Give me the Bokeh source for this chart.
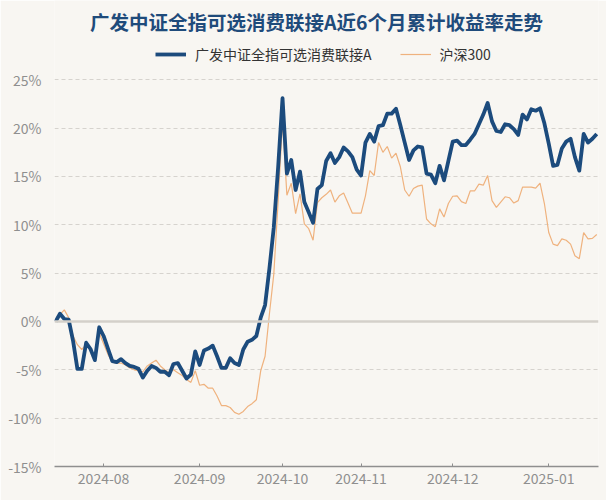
from bokeh.plotting import figure
from bokeh.models import (FixedTicker, PrintfTickFormatter, Legend, LegendItem,
                          Span, Label, Range1d, ColumnDataSource)
from bokeh.embed import file_html
from bokeh.resources import INLINE

# trading days (China A-share) by month
months = ["2024-07", "2024-08", "2024-09", "2024-10", "2024-11", "2024-12", "2025-01"]
days = [
    [17, 18, 19, 22, 23, 24, 25, 26, 29, 30, 31],
    [1, 2, 5, 6, 7, 8, 9, 12, 13, 14, 15, 16, 19, 20, 21, 22, 23, 26, 27, 28, 29, 30],
    [2, 3, 4, 5, 6, 9, 10, 11, 12, 13, 18, 19, 20, 23, 24, 25, 26, 27, 30],
    [8, 9, 10, 11, 14, 15, 16, 17, 18, 21, 22, 23, 24, 25, 28, 29, 30, 31],
    [1, 4, 5, 6, 7, 8, 11, 12, 13, 14, 15, 18, 19, 20, 21, 22, 25, 26, 27, 28, 29],
    [2, 3, 4, 5, 6, 9, 10, 11, 12, 13, 16, 17, 18, 19, 20, 23, 24, 25, 26, 27, 30, 31],
    [2, 3, 6, 7, 8, 9, 10, 13, 14, 15, 16, 17],
]
dates = [f"{m}-{d:02d}" for m, ds in zip(months, days) for d in ds]

fund = [
    0.0, 0.8, 0.25, 0.2, -2.0, -4.9, -4.9, -2.2, -2.85, -4.0,
    -0.6, -1.5, -2.8, -4.1, -4.2, -3.9, -4.3, -4.6, -4.7, -4.9,
    -5.8, -5.1, -4.6, -4.8, -5.2, -5.2, -5.55, -4.4, -4.3, -5.1,
    -5.9, -5.5, -3.1, -4.5, -3.0, -2.8, -2.5, -3.6, -4.8, -4.8,
    -3.8, -4.3, -4.5, -2.9, -2.1, -1.9, -1.5, 0.4, 1.7, 5.5,
    9.75, 16.0, 23.1, 15.3, 16.7, 13.6, 15.5, 12.35, 11.3, 10.2,
    13.7, 14.1, 16.6, 17.4, 16.4, 17.0, 18.0, 17.6, 17.0, 15.7,
    15.1, 18.5, 19.4, 18.6, 20.2, 20.3, 21.5, 21.5, 22.0, 20.3,
    18.5, 16.7, 17.7, 18.1, 18.0, 15.3, 15.2, 14.3, 16.1, 14.6,
    16.6, 18.6, 18.7, 18.25, 18.25, 18.8, 19.4, 20.4, 21.4, 22.6,
    20.7, 19.7, 19.6, 20.4, 20.3, 19.9, 19.3, 21.4, 20.9, 21.95,
    21.8, 22.05, 20.5, 18.4, 16.1, 16.2, 17.9, 18.6, 18.9, 17.0,
    15.6, 19.4, 18.5, 18.9, 19.4,
]

hs300 = [
    0.0, 0.7, 1.2, 0.4, -1.5, -2.4, -2.9, -2.4, -3.0, -3.7,
    -1.2, -2.3, -3.4, -4.2, -4.3, -4.3, -4.5, -4.8, -5.0, -5.1,
    -5.2, -4.6, -4.3, -4.0, -4.6, -5.0, -5.3, -5.0, -5.3, -5.6,
    -6.0, -6.3, -5.1, -6.6, -6.5, -6.9, -6.9, -7.7, -8.7, -8.7,
    -8.9, -9.4, -9.6, -9.3, -8.8, -8.5, -8.1, -5.1, -3.6, 0.8,
    4.9, 12.5, 20.8, 13.05, 14.3, 11.15, 13.2, 10.1, 9.6, 8.4,
    12.3, 12.8, 13.15, 13.6, 12.35, 13.0, 13.3, 12.25, 11.2, 11.2,
    11.2, 13.0, 15.6, 15.1, 18.5, 17.5, 18.1, 16.9, 17.4, 16.0,
    13.6, 12.95, 13.75, 14.0, 14.1, 10.6, 10.1, 9.8, 11.65, 10.8,
    12.2, 12.95, 13.0, 12.4, 12.2, 13.5, 13.5, 14.2, 14.1, 15.1,
    12.5, 11.8, 12.35, 12.9, 12.8, 12.25, 12.5, 13.9, 13.9, 13.9,
    13.8, 14.3, 12.2, 9.2, 8.0, 7.85, 8.55, 8.4, 8.0, 6.8,
    6.5, 9.2, 8.55, 8.6, 9.0,
]

y_ticks = [-15, -10, -5, 0, 5, 10, 15, 20, 25]
fund_name = "广发中证全指可选消费联接A"
index_name = "沪深300"
title_text = "广发中证全指可选消费联接A近6个月累计收益率走势"

idx = list(range(len(dates)))
tick_idx = [i for i in idx if i > 0 and dates[i][:7] != dates[i - 1][:7]]
tick_labels = {i: dates[i][:7] for i in tick_idx}

FONT = "Noto Sans CJK SC"
BG = "#f8f6f2"
BLUE = "#1c4b7d"
ORANGE = "#efb27e"

src = ColumnDataSource(dict(x=idx, fund=fund, hs=hs300, date=dates))

# frame spans the full height; headroom above 25% holds the title and legend
y_top = 33.2
p = figure(width=606, height=500, output_backend="svg", toolbar_location=None,
           title=None,
           x_range=Range1d(-0.25, len(dates) - 0.6), y_range=Range1d(-15, y_top),
           min_border_left=54, min_border_right=8, min_border_top=0,
           min_border_bottom=34, background_fill_color=BG, border_fill_color=BG,
           outline_line_color=None)

r_hs = p.line("x", "hs", source=src, line_color=ORANGE, line_width=1.2)
r_fund = p.line("x", "fund", source=src, line_color=BLUE, line_width=3.8,
                line_join="round")

p.add_layout(Span(location=0, dimension="width", line_color="#d4d0ca",
                  line_width=2.5), "center")

p.add_layout(Label(x=(len(dates) - 1) / 2 - 2.2, y=y_top - 2.2, text=title_text,
                   text_align="center", text_baseline="middle",
                   text_font=FONT, text_font_size="19.5px", text_font_style="bold",
                   text_color="#1f4b7b"))

legend = Legend(items=[LegendItem(label=fund_name, renderers=[r_fund]),
                       LegendItem(label=index_name, renderers=[r_hs])],
                orientation="horizontal", location=(101, 402),
                label_text_font=FONT, label_text_font_size="14px",
                label_text_color="#333333", glyph_width=31, glyph_height=14,
                label_standoff=9, spacing=28, padding=0, margin=0,
                background_fill_alpha=0, border_line_color=None)
p.add_layout(legend, "center")

p.yaxis.ticker = FixedTicker(ticks=y_ticks)
p.yaxis.formatter = PrintfTickFormatter(format="%d%%")
p.yaxis.axis_line_color = None
p.yaxis.major_tick_line_color = None
p.yaxis.minor_tick_line_color = None
p.yaxis.major_label_standoff = 7
p.yaxis.major_label_text_font = FONT
p.yaxis.major_label_text_font_size = "14px"
p.yaxis.major_label_text_color = "#8f8f8f"

p.xaxis.ticker = FixedTicker(ticks=tick_idx)
p.xaxis.major_label_overrides = tick_labels
p.xaxis.axis_line_color = "#8f8f8f"
p.xaxis.axis_line_width = 1.5
p.xaxis.major_tick_line_color = "#8f8f8f"
p.xaxis.major_tick_in = 3
p.xaxis.major_tick_out = 0
p.xaxis.minor_tick_line_color = None
p.xaxis.major_label_standoff = 6
p.xaxis.major_label_text_font = FONT
p.xaxis.major_label_text_font_size = "14px"
p.xaxis.major_label_text_color = "#8f8f8f"

p.xgrid.grid_line_color = None
p.ygrid.ticker = FixedTicker(ticks=y_ticks)
p.ygrid.grid_line_color = "#d6d3ce"
p.ygrid.grid_line_dash = "4 3"
p.ygrid.grid_line_width = 1

open("out.html", "w").write(file_html(p, INLINE))
